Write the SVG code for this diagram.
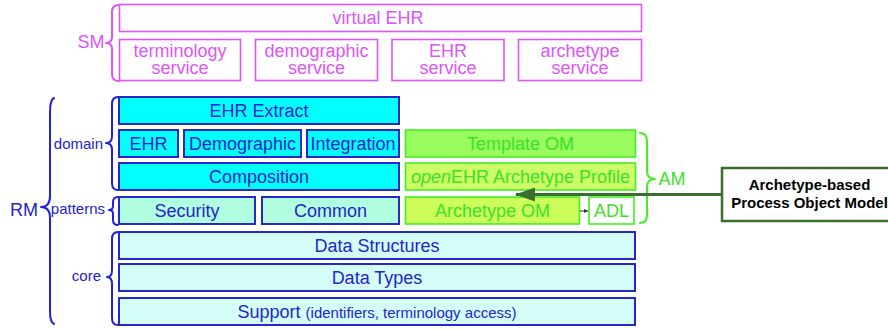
<svg xmlns="http://www.w3.org/2000/svg" width="888" height="329" viewBox="0 0 888 329">
  <style>
    text { font-family: "Liberation Sans", Arial, sans-serif; }
    .sm rect { fill: #ffffff; stroke: #dc55f7; stroke-width: 1.6; }
    .sm text, text.sm { fill: #dc55f7; font-size: 18px; text-anchor: middle; }
    .rm rect { stroke: #2828c8; stroke-width: 2; }
    .rm text, text.rm { fill: #2424cc; font-size: 18px; text-anchor: middle; }
    .dom rect { fill: #00ffff; }
    .pat rect { fill: #b0fde0; }
    .core rect { fill: #d4fdf8; }
    .am rect { stroke: #44ee22; stroke-width: 1.6; }
    .am text, text.am { fill: #3ce02a; font-size: 18px; text-anchor: middle; }
    text.rm.lbl { font-size: 15px; text-anchor: end; }
    .brace { fill: none; stroke-width: 2; stroke-linecap: round; stroke-linejoin: round; }
    .note { fill: #000; font-size: 15px; font-weight: bold; text-anchor: middle; }
  </style>
  <defs>
    <marker id="bigHead" viewBox="0 0 20 14" refX="19" refY="7" markerWidth="20" markerHeight="14" markerUnits="userSpaceOnUse" orient="auto">
      <path d="M20 7 L0 0 L0 14 Z" fill="#3b6e2e"/>
    </marker>
    <marker id="smallHead" viewBox="0 0 6 6" refX="6" refY="3" markerWidth="4" markerHeight="4" markerUnits="userSpaceOnUse" orient="auto">
      <path d="M0 0 L6 3 L0 6 Z" fill="#333"/>
    </marker>
  </defs>

  <!-- Service Model -->
  <g id="sm-label"><text class="sm" x="91" y="48">SM</text></g>
  <g id="sm-brace"><path class="brace" stroke="#dc55f7" d="M119 5 Q112 5 112 12 L112 37 Q112 43 106 43 Q112 43 112 49 L112 74 Q112 81 119 81"/></g>
  <g id="virtual-ehr" class="sm"><rect x="119.5" y="4.5" width="522" height="27"/><text x="378" y="24">virtual EHR</text></g>
  <g id="terminology-service" class="sm"><rect x="119.5" y="39.5" width="121" height="41"/><text x="180" y="57">terminology</text><text x="180" y="74">service</text></g>
  <g id="demographic-service" class="sm"><rect x="255.5" y="39.5" width="122" height="41"/><text x="316.5" y="57">demographic</text><text x="316.5" y="74">service</text></g>
  <g id="ehr-service" class="sm"><rect x="392" y="39.5" width="112" height="41"/><text x="448" y="57">EHR</text><text x="448" y="74">service</text></g>
  <g id="archetype-service" class="sm"><rect x="518.5" y="39.5" width="123" height="41"/><text x="580" y="57">archetype</text><text x="580" y="74">service</text></g>

  <!-- Reference Model -->
  <g id="rm-label"><text class="rm" x="24" y="216">RM</text></g>
  <g id="rm-brace"><path class="brace" stroke="#2020dd" stroke-width="2.5" d="M54 98 Q50 100 50 112 L50 196 Q50 207 41 207 Q50 207 50 218 L50 312 Q50 322 54 324"/></g>
  <g id="domain-label"><text class="rm lbl" x="103" y="148.5">domain</text></g>
  <g id="domain-brace"><path class="brace" stroke="#2020dd" d="M118 97 Q112 97 112 104 L112 136 Q112 143 106 143 Q112 143 112 150 L112 183 Q112 190 118 190"/></g>
  <g id="patterns-label"><text class="rm lbl" x="105" y="214">patterns</text></g>
  <g id="patterns-brace"><path class="brace" stroke="#2020dd" d="M118 197 Q113 197 113 202 L113 206 Q113 210 109 210 Q113 210 113 214 L113 220 Q113 225 118 225"/></g>
  <g id="core-label"><text class="rm lbl" x="101" y="281">core</text></g>
  <g id="core-brace"><path class="brace" stroke="#2020dd" d="M118 232 Q112 232 112 239 L112 270 Q112 277 107 277 Q112 277 112 284 L112 318 Q112 325 118 325"/></g>

  <g id="ehr-extract" class="rm dom"><rect x="119" y="97" width="280" height="27"/><text x="259" y="116.8">EHR Extract</text></g>
  <g id="ehr" class="rm dom"><rect x="119" y="130" width="59" height="27"/><text x="148.5" y="149.8">EHR</text></g>
  <g id="demographic" class="rm dom"><rect x="184" y="130" width="117" height="27"/><text x="242.5" y="149.8">Demographic</text></g>
  <g id="integration" class="rm dom"><rect x="307" y="130" width="92" height="27"/><text x="353" y="149.8">Integration</text></g>
  <g id="composition" class="rm dom"><rect x="119" y="163" width="280" height="27"/><text x="259" y="182.8">Composition</text></g>
  <g id="security" class="rm pat"><rect x="119" y="197" width="136" height="27"/><text x="187" y="216.8">Security</text></g>
  <g id="common" class="rm pat"><rect x="262" y="197" width="137" height="27"/><text x="330.5" y="216.8">Common</text></g>
  <g id="data-structures" class="rm core"><rect x="119" y="232" width="516" height="27"/><text x="377" y="251.8">Data Structures</text></g>
  <g id="data-types" class="rm core"><rect x="119" y="264" width="516" height="27"/><text x="377" y="283.8">Data Types</text></g>
  <g id="support" class="rm core"><rect x="119" y="298" width="516" height="27"/><text x="377" y="317.8">Support <tspan font-size="15">(identifiers, terminology access)</tspan></text></g>

  <!-- Archetype Model -->
  <g id="template-om" class="am"><rect x="405.5" y="130" width="230" height="27" fill="#99fb5f"/><text x="520.5" y="149.8">Template OM</text></g>
  <g id="archetype-profile" class="am"><rect x="405.5" y="163" width="230" height="27" fill="#ccfd66"/><text x="520.5" y="182.8"><tspan font-style="italic">open</tspan>EHR Archetype Profile</text></g>
  <g id="archetype-om" class="am"><rect x="405.5" y="197" width="174" height="27" fill="#ccfd5a"/><text x="492.5" y="216.8">Archetype OM</text></g>
  <g id="adl" class="am"><rect x="589" y="197" width="45" height="27" fill="#ffffff"/><text x="611.5" y="216.8">ADL</text></g>
  <g id="am-brace"><path class="brace" stroke="#44ee22" d="M640 133 Q647 133 647 141 L647 171 Q647 179 655 179 Q647 179 647 187 L647 215 Q647 223 640 223"/></g>
  <g id="am-label"><text class="am" x="672" y="184.5" font-size="17">AM</text></g>

  <!-- Process object model note -->
  <g id="process-object-model">
    <rect x="722" y="168" width="180" height="53" fill="#ffffff" stroke="#3b6e2e" stroke-width="2.5"/>
    <text class="note" x="809.5" y="190">Archetype-based</text>
    <text class="note" x="809.5" y="208">Process Object Model</text>
  </g>

  <!-- Connectors -->
  <g id="connectors">
    <line x1="722" y1="194.5" x2="516" y2="194.5" stroke="#3b6e2e" stroke-width="3" marker-end="url(#bigHead)"/>
    <line x1="580" y1="211" x2="588" y2="211" stroke="#333" stroke-width="1" marker-end="url(#smallHead)"/>
  </g>
</svg>
